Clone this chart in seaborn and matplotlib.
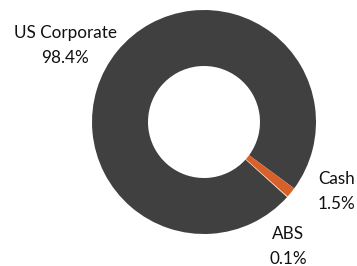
import matplotlib
matplotlib.use("Agg")
import matplotlib.pyplot as plt
import numpy as np
import seaborn as sns

# Data
sectors = ["US Corporate", "Cash", "ABS"]
weights = [98.4, 1.5, 0.1]
pct_labels = ["98.4%", "1.5%", "0.1%"]

# Styling
colors = sns.color_palette(["#404040", "#D8602B", "#F5D2A8"])
label_pos = [(-1.24, 0.68), (1.18, -0.62), (0.75, -1.11)]

sns.set_style("white")
plt.rcParams["font.family"] = ["Lato", "DejaVu Sans"]

fig = plt.figure(figsize=(3.57, 2.66), dpi=100)
ax = fig.add_axes([(204 - 112) / 357, (266 - 122 - 112) / 266, 224 / 357, 224 / 266])

wedges, _ = ax.pie(weights, colors=colors, startangle=-42.1, counterclock=False,
                   radius=1.0, wedgeprops=dict(width=0.5, linewidth=0))
ax.set_xlim(-1, 1)
ax.set_ylim(-1, 1)
ax.set_aspect("equal")
ax.axis("off")

for name, pct, (x, y) in zip(sectors, pct_labels, label_pos):
    ax.text(x, y, f"{name}\n{pct}", ha="center", va="center", fontsize=12.3,
            linespacing=1.7, color="#111111", clip_on=False)

fig.savefig("out.png", dpi=100, facecolor="white")
